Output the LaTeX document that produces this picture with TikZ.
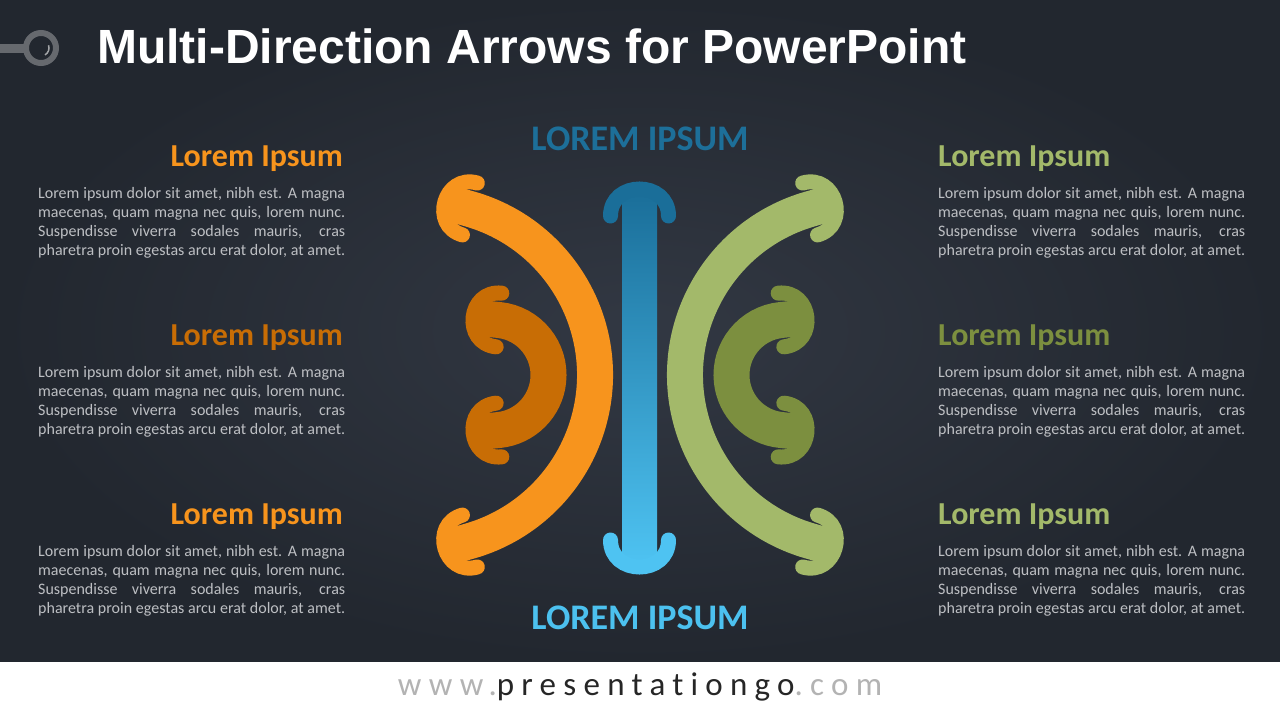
\documentclass[tikz,border=0pt]{standalone}
\usepackage{fontspec}
\setmainfont{Carlito}
\newfontfamily\titlefont{Liberation Sans}
\newfontfamily\urlfont[LetterSpace=22,Ligatures=NoCommon]{Carlito}
\definecolor{bgin}{HTML}{323843}
\definecolor{bgout}{HTML}{22272F}
\definecolor{orangeA}{HTML}{F7941D}
\definecolor{orangeB}{HTML}{C86D05}
\definecolor{greenA}{HTML}{A3B96A}
\definecolor{greenB}{HTML}{7C8F3F}
\definecolor{blueA}{HTML}{1A6E99}
\definecolor{blueM}{HTML}{42B3E4}
\definecolor{blueB}{HTML}{4EC3F2}
\definecolor{bluetitle}{HTML}{1D6F99}
\definecolor{bluetitleB}{HTML}{4CC1EF}
\definecolor{bodygray}{HTML}{BDBFC3}
\definecolor{logogray}{HTML}{66696E}
\definecolor{urlgray}{HTML}{B3B3B3}
\definecolor{urldark}{HTML}{262626}
\tikzset{
  headstroke/.style={line width=15pt, line cap=round},
  heading/.style={inner sep=0pt, font=\bfseries\fontsize{32}{38}\selectfont},
  bodyline/.style={inner sep=0pt, anchor=base west, text=bodygray, font=\fontsize{16}{19.2}\selectfont},
  bigcap/.style={inner sep=0pt, anchor=base, font=\bfseries\fontsize{36}{43}\selectfont},
}
% arrow head: x, y, rotation, colour, half barb spacing, back distance
\newcommand\arrhead[6]{\draw[headstroke, #4, shift={({#1},{#2})}, rotate=#3]
  (-#6,#5) .. controls ({#6/3},#5) and ({#6/3},-#5) .. (-#6,-#5);}
% curved double arrow: cx, cy, r, alpha, side (1 bulge right, -1 bulge left), colour
\newcommand\carrow[6]{%
  \pgfmathsetmacro\cax{#1+#5*#3*cos(#4)}%
  \pgfmathsetmacro\cayt{#2-#3*sin(#4)}%
  \pgfmathsetmacro\cayb{#2+#3*sin(#4)}%
  \pgfmathsetmacro\cadx{-#5*sin(#4)}%
  \pgfmathsetmacro\cady{cos(#4)}%
  \pgfmathsetmacro\casa{(1-#5)*90-#5*#4}%
  \pgfmathsetmacro\caea{(1-#5)*90+#5*#4}%
  \pgfmathsetmacro\cart{90+#5*#4}%
  \draw[#6, line width=36pt] ({\cax+23*\cadx},{\cayt-23*\cady}) -- (\cax,\cayt)
     arc[start angle=\casa, end angle=\caea, radius=#3] -- ({\cax+23*\cadx},{\cayb+23*\cady});
  \arrhead{\cax+26*\cadx}{\cayt-26*\cady}{\cart}{#6}{27}{26}
  \arrhead{\cax+26*\cadx}{\cayb+26*\cady}{-\cart}{#6}{27}{26}
}
\newcommand\bodytext[3]{%
  \node[bodyline] (#1a) at (#2,#3) {\hbox to 307pt{Lorem ipsum dolor sit amet, nibh est. A magna}};
  \node[bodyline] (#1b) at (#2,#3+19.2) {\hbox to 307pt{maecenas, quam magna nec quis, lorem nunc.}};
  \node[bodyline] (#1c) at (#2,#3+38.4) {\hbox to 307pt{Suspendisse viverra sodales mauris, cras}};
  \node[bodyline] (#1d) at (#2,#3+57.6) {\hbox to 307pt{pharetra proin egestas arcu erat dolor, at amet.}};
}
\begin{document}
\begin{tikzpicture}[x=1pt, y=-1pt]
\useasboundingbox (0,0) rectangle (1280,720);
% background
\shade[inner color=bgin, outer color=bgout] (0,0) rectangle (1280,662);
\fill[white] (0,662) rectangle (1280,720);
% logo
\fill[logogray] (0,44) rectangle (26,53);
\draw[logogray, line width=6pt] (41,48) circle[radius=15];
\draw[logogray!60!white, line width=1.5pt] (41,48) ++(-20:8) arc[start angle=-20, end angle=60, radius=8];
% title
\node[anchor=base west, inner sep=0pt, text=white, font=\titlefont\bfseries\fontsize{48}{58}\selectfont] (title) at (97,63.5) {Multi-Direction Arrows for PowerPoint};
% central blue arrow
\shade[top color=blueA, middle color=blueM, bottom color=blueB] (622,191) rectangle (657,565);
\arrhead{639.5}{189}{90}{blueA}{29}{27}
\arrhead{639.5}{567}{-90}{blueB}{29}{27}
% curved arrows
\carrow{422.3}{375}{172.7}{74}{1}{orangeA}
\carrow{493.2}{375}{55.3}{84}{1}{orangeB}
\carrow{857.7}{375}{172.7}{74}{-1}{greenA}
\carrow{786.8}{375}{55.3}{84}{-1}{greenB}
% centre captions
\node[bigcap, text=bluetitle] (captop) at (640,150.7) {LOREM IPSUM};
\node[bigcap, text=bluetitleB] (capbot) at (640,629) {LOREM IPSUM};
% left side
\node[heading, anchor=base east, text=orangeA] (h1) at (343,166) {Lorem Ipsum};
\node[heading, anchor=base east, text=orangeB] (h2) at (343,345) {Lorem Ipsum};
\node[heading, anchor=base east, text=orangeA] (h3) at (343,524) {Lorem Ipsum};
\bodytext{l1}{38}{198.3}
\bodytext{l2}{38}{377.3}
\bodytext{l3}{38}{556.3}
% right side
\node[heading, anchor=base west, text=greenA] (h4) at (938,166) {Lorem Ipsum};
\node[heading, anchor=base west, text=greenB] (h5) at (938,345) {Lorem Ipsum};
\node[heading, anchor=base west, text=greenA] (h6) at (938,524) {Lorem Ipsum};
\bodytext{r1}{938}{198.3}
\bodytext{r2}{938}{377.3}
\bodytext{r3}{938}{556.3}
% footer
\node[anchor=base, inner sep=0pt, font=\urlfont\fontsize{33}{40}\selectfont] (url) at (640,695)
  {\textcolor{urlgray}{www.}\textcolor{urldark}{presentationgo}\textcolor{urlgray}{.com}};
\end{tikzpicture}
\end{document}
